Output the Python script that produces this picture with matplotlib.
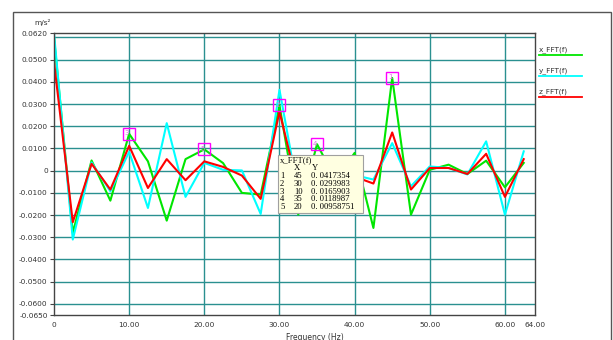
import matplotlib
matplotlib.use('Agg')
import matplotlib.pyplot as plt
from matplotlib.patches import Rectangle
from matplotlib.lines import Line2D

# Espectro FFT de las tres componentes de aceleracion
freq = [0, 2.5, 5, 7.5, 10, 12.5, 15, 17.5, 20, 22.5, 25, 27.5, 30,
        32.5, 35, 37.5, 40, 42.5, 45, 47.5, 50, 52.5, 55, 57.5, 60, 62.5]

x_fft = [0.0600, -0.0280, 0.0046, -0.0135, 0.0165903, 0.0042, -0.0225, 0.0052,
         0.00958751, 0.0034, -0.0100, -0.0108, 0.0293983, -0.0198, 0.0118987,
         -0.0040, 0.0080, -0.0258, 0.0417354, -0.0198, 0.0004, 0.0027, -0.0015,
         0.0045, -0.0075, 0.0035]

y_fft = [0.0620, -0.0310, 0.0037, -0.0093, 0.0085, -0.0168, 0.0214, -0.0118,
         0.0035, 0.0004, 0.0001, -0.0195, 0.0364, -0.0100, 0.0030, -0.0010,
         -0.0020, -0.0040, 0.0124, -0.0070, 0.0019, 0.0012, -0.0017, 0.0132,
         -0.0198, 0.0087]

z_fft = [0.0490, -0.0232, 0.0031, -0.0085, 0.0112, -0.0078, 0.0052, -0.0043,
         0.0042, 0.0017, -0.0022, -0.0127, 0.0266, -0.0080, 0.0020, -0.0020,
         -0.0027, -0.0058, 0.0172, -0.0085, 0.0012, 0.0012, -0.0015, 0.0076,
         -0.0118, 0.0052]

# Los 5 picos mas altos de x_FFT(f)
peak_f = [45, 30, 10, 35, 20]
peak_val = [0.0417354, 0.0293983, 0.0165903, 0.0118987, 0.00958751]

series_names = ['x_FFT(f)', 'y_FFT(f)', 'z_FFT(f)']
series_colors = ['#00e600', '#00ffff', '#ff0000']

y_ticks = [-0.065, -0.06, -0.05, -0.04, -0.03, -0.02, -0.01, 0,
           0.01, 0.02, 0.03, 0.04, 0.05, 0.062]
y_grid = [-0.06, -0.05, -0.04, -0.03, -0.02, -0.01, 0,
          0.01, 0.02, 0.03, 0.04, 0.05, 0.06]
x_ticks = [0, 10, 20, 30, 40, 50, 60, 64]
x_grid = [10, 20, 30, 40, 50, 60]

W, H = 613, 340


def fx(x):
    return x / W


def fy(y):
    return 1 - y / H


fig = plt.figure(figsize=(W / 100, H / 100), dpi=100)
ax = fig.add_axes([fx(54), fy(315), fx(535) - fx(54), fy(33) - fy(315)])

# marco exterior
fig.add_artist(Rectangle((fx(12.5), fy(360)), fx(611) - fx(12.5), fy(11.5) - fy(360),
                         fill=False, ec='#555555', lw=1.0, transform=fig.transFigure))

grid_color = '#2a9090'
for g in y_grid:
    ax.axhline(g, color=grid_color, lw=1.0, zorder=1)
for g in x_grid:
    ax.axvline(g, color=grid_color, lw=1.0, zorder=1)

ax.plot(freq, x_fft, color=series_colors[0], lw=1.5, zorder=3)
ax.plot(freq, y_fft, color=series_colors[1], lw=1.5, zorder=4)
ax.plot(freq, z_fft, color=series_colors[2], lw=1.5, zorder=5)

ax.set_xlim(0, 64)
ax.set_ylim(-0.065, 0.062)

ax.set_yticks(y_ticks)
ax.set_yticklabels(['0' if v == 0 else '%.4f' % v for v in y_ticks])
ax.set_xticks(x_ticks)
ax.set_xticklabels(['0' if v == 0 else '%.2f' % v for v in x_ticks])
ax.tick_params(axis='y', length=3, width=0.8, pad=1.5, labelsize=5.3,
               labelcolor='#333333', color='#444444')
ax.tick_params(axis='x', length=0, pad=5, labelsize=5.3, labelcolor='#333333')

for s in ax.spines.values():
    s.set_color('#444444')
    s.set_linewidth(1.0)
    s.set_zorder(6)

fig.text(fx(42.5), fy(22.5), 'm/s²', fontsize=5.3, color='#333333', ha='center', va='center')
fig.text(fx(315), fy(333.5), 'Frequency (Hz)', fontsize=5.5, color='#333333', ha='center', va='top')

# marcas de los picos
for i, (f, v) in enumerate(zip(peak_f, peak_val)):
    ax.plot([f], [v], marker='s', markersize=8.6, markerfacecolor='none',
            markeredgecolor='#ff00ff', markeredgewidth=1.0, zorder=7)
    ax.annotate(str(i + 1), (f, v), xytext=(-1.5, 0.5), textcoords='offset points',
                fontsize=5, color='#e070e0', ha='center', va='center', zorder=8)

# leyenda a la derecha
for i, (name, c) in enumerate(zip(series_names, series_colors)):
    ty = 49.5 + i * 21.3
    fig.text(fx(539), fy(ty), name, fontsize=5.3, color='#333333', ha='left', va='center')
    fig.add_artist(Line2D([fx(539), fx(582)], [fy(ty + 5), fy(ty + 5)], color=c,
                          lw=1.3, transform=fig.transFigure))

# cuadro con los valores de los picos
fig.add_artist(Rectangle((fx(278.3), fy(212.7)), fx(363.3) - fx(278.3), fy(155) - fy(212.7),
                         fc='#ffffe1', ec='#a0a0a0', lw=0.8, transform=fig.transFigure,
                         zorder=10))
tip_font = dict(family='Liberation Serif', fontsize=6.2, color='black', zorder=11)
fig.text(fx(280), fy(160.5), 'x_FFT(f)', ha='left', va='center', **tip_font)
fig.text(fx(296.7), fy(168), 'X', ha='center', va='center', **tip_font)
fig.text(fx(315), fy(168), 'Y', ha='center', va='center', **tip_font)
for i, (f, v) in enumerate(zip(peak_f, peak_val)):
    ry = 176 + i * 7.8
    fig.text(fx(280), fy(ry), str(i + 1), ha='left', va='center', **tip_font)
    fig.text(fx(302.7), fy(ry), str(f), ha='right', va='center', **tip_font)
    fig.text(fx(311), fy(ry), ('%.6g' % v).replace('0.', '0. ', 1), ha='left', va='center', **tip_font)

fig.savefig('out.png', dpi=100)
